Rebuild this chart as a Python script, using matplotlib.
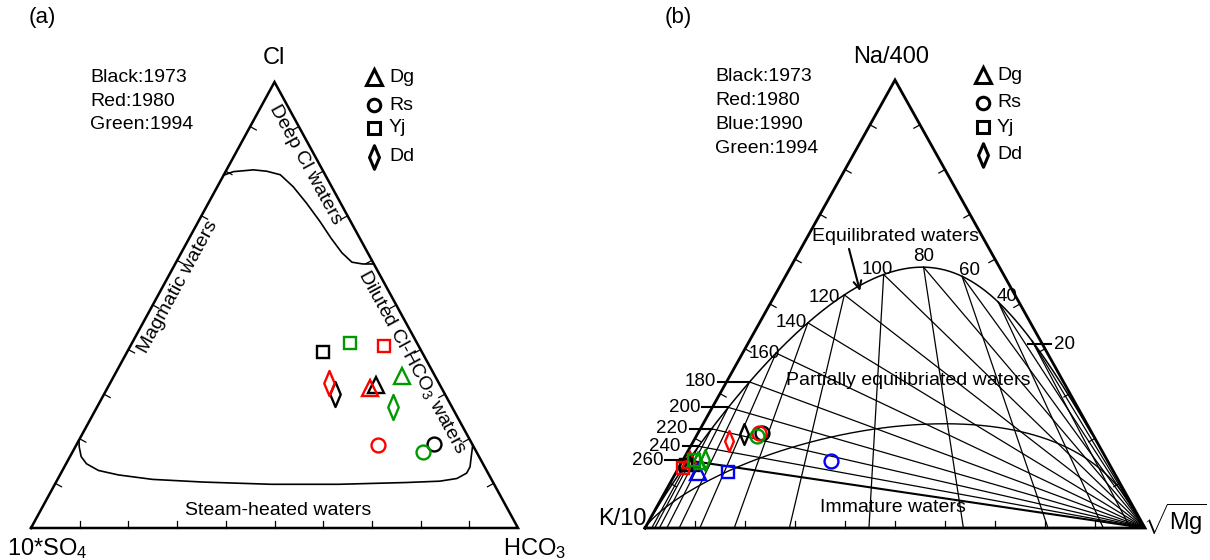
import matplotlib
matplotlib.use('Agg')
import matplotlib.pyplot as plt
import numpy as np
from matplotlib.path import Path

plt.rcParams['font.family'] = ['Liberation Sans', 'DejaVu Sans']
plt.rcParams['mathtext.fontset'] = 'custom'
plt.rcParams['mathtext.rm'] = 'Liberation Sans'
plt.rcParams['mathtext.it'] = 'Liberation Sans:italic'
plt.rcParams['mathtext.bf'] = 'Liberation Sans:bold'

# ---------------- data ----------------
sites = ['Dg', 'Rs', 'Yj', 'Dd']

# (a) Cl - 10*SO4 - HCO3 (%), years 1973 / 1980 / 1994
years_a = ['1973', '1980', '1994']
cl_a = {
    'Dg': [32.1, 31.4, 34.0],
    'Rs': [18.8, 18.6, 17.1],
    'Yj': [39.5, 40.8, 41.5],
    'Dd': [30.0, 32.5, 27.2],
}
hco3_a = {
    'Dg': [54.8, 53.9, 59.1],
    'Rs': [73.3, 61.9, 71.9],
    'Yj': [40.2, 52.0, 44.7],
    'Dd': [47.4, 44.9, 60.7],
}

# (b) Na/400 - K/10 - sqrt(Mg) (%), years 1973 / 1980 / 1990 / 1994
years_b = ['1973', '1980', '1990', '1994']
na_b = {
    'Dg': [14.5, 15.2, 12.5, 15.0],
    'Rs': [21.2, 21.2, 15.0, 20.5],
    'Yj': [14.1, 13.4, 12.5, 15.2],
    'Dd': [21.0, 19.4, None, 15.2],
}
mg_b = {
    'Dg': [2.0, 1.3, 4.4, 3.0],
    'Rs': [12.7, 12.1, 29.6, 12.2],
    'Yj': [1.2, 0.8, 10.4, 2.1],
    'Dd': [9.2, 7.0, None, 4.3],
}

# (a) field boundaries (Cl %, HCO3 %)
deep_cl_cl = [79.1, 79.9, 80.3, 80.0, 79.2, 76.5, 72.8, 68.7, 65.0, 61.7, 59.6, 59.2, 59.2]
deep_cl_hco3 = [0.0, 1.6, 5.5, 8.4, 11.6, 15.6, 20.2, 25.0, 29.1, 33.0, 36.1, 38.5, 40.8]
steam_cl = [19.7, 18.2, 16.0, 14.4, 12.9, 11.9, 10.9, 10.3, 9.8, 9.8, 10.2, 10.5, 11.1, 12.3, 13.7, 16.0, 18.6]
steam_hco3 = [0.0, 0.8, 2.3, 4.2, 7.4, 12.0, 19.5, 30.2, 44.4, 58.3, 72.0, 78.7, 81.9, 83.3, 83.3, 82.4, 81.4]

# (b) isotherms (deg C)
iso_temps = [20, 40, 60, 80, 100, 120, 140, 160, 180, 200, 220, 240, 260]

colors_a = ['black', 'red', '#009900']
colors_b = ['black', 'red', '#0000ff', '#009900']

diamond = Path([(0, 1), (0.42, 0), (0, -1), (-0.42, 0), (0, 1)], closed=True)
markers = {'Dg': '^', 'Rs': 'o', 'Yj': 's', 'Dd': diamond}
ms_a = {'Dg': 11, 'Rs': 10, 'Yj': 9, 'Dd': 18}
ms_b = {'Dg': 11, 'Rs': 10, 'Yj': 9, 'Dd': 15}


def tern(top, right):
    top = np.asarray(top, dtype=float) / 100.0
    right = np.asarray(right, dtype=float) / 100.0
    return right + 0.5 * top, top


def frame(ax, wpx, hpx, lw):
    ax.set_xlim(0, 1)
    ax.set_ylim(0, 1)
    ax.axis('off')
    ax.plot([0, 1, 0.5, 0], [0, 0, 1, 0], color='black', lw=lw, clip_on=False,
            solid_joinstyle='miter')
    tl = 7.0
    nrm = np.hypot(0.5 * wpx, hpx)
    for f in np.arange(1, 10) / 10.0:
        ax.plot([f, f], [0, tl / hpx], color='black', lw=0.9, clip_on=False)
        # left edge
        x0, y0 = 0.5 * f, f
        ax.plot([x0, x0 + hpx / nrm * tl / wpx], [y0, y0 - 0.5 * wpx / nrm * tl / hpx],
                color='black', lw=0.9, clip_on=False)
        # right edge
        x0 = 1 - 0.5 * f
        ax.plot([x0, x0 - hpx / nrm * tl / wpx], [y0, y0 - 0.5 * wpx / nrm * tl / hpx],
                color='black', lw=0.9, clip_on=False)


fig = plt.figure(figsize=(12.1, 5.6), dpi=100)

# ================= panel (a) =================
wa, ha = 487.0, 446.0
ax = fig.add_axes([31 / 1210, 32 / 560, wa / 1210, ha / 560])
frame(ax, wa, ha, 1.8)

x, y = tern(deep_cl_cl, deep_cl_hco3)
ax.plot(x, y, color='black', lw=1.2)
x, y = tern(steam_cl, steam_hco3)
ax.plot(x, y, color='black', lw=1.2)

for s in sites:
    for i, c in enumerate(colors_a):
        x, y = tern(cl_a[s][i], hco3_a[s][i])
        ax.plot(x, y, marker=markers[s], ms=ms_a[s], mfc='none', mec=c, mew=1.7,
                ls='none', clip_on=False)

ax.text(0.499, 1.054, 'Cl', fontsize=17, ha='center', va='center')
ax.text(0.033, -0.045, r'10*SO$_4$', fontsize=17, ha='center', va='center')
ax.text(1.035, -0.045, r'HCO$_3$', fontsize=17, ha='center', va='center')

ang = np.degrees(np.arctan2(ha, 0.5 * wa))
ax.text(0.563, 0.814, 'Deep Cl waters', fontsize=14, rotation=-ang,
        ha='center', va='center', rotation_mode='anchor')
ax.text(0.784, 0.372, r'Diluted Cl-HCO$_3$ waters', fontsize=14, rotation=-ang,
        ha='center', va='center', rotation_mode='anchor')
ax.text(0.302, 0.540, 'Magmatic waters', fontsize=14, rotation=ang,
        ha='center', va='center', rotation_mode='anchor')
ax.text(0.507, 0.040, 'Steam-heated waters', fontsize=14, ha='center', va='center')

for i, lab in enumerate(['Black:', 'Red:', 'Green:']):
    ax.text(0.121, 1.009 - 0.0525 * i, lab + years_a[i], fontsize=14, ha='left', va='center')
leg_y = [1.011, 0.948, 0.897, 0.832]
leg_ms = {'Dg': 11, 'Rs': 9, 'Yj': 8.5, 'Dd': 17}
for s, yy in zip(sites, leg_y):
    ax.plot(0.704, yy, marker=markers[s], ms=leg_ms[s], mfc='none', mec='black', mew=2.2,
            ls='none', clip_on=False)
    ax.text(0.735, yy, s, fontsize=14, ha='left', va='center')

fig.text(42 / 1210, 1 - 18 / 560, '(a)', fontsize=16, ha='center', va='center')

# ================= panel (b) =================
wb, hb = 500.0, 448.0
bx = fig.add_axes([645 / 1210, 32 / 560, wb / 1210, hb / 560])
frame(bx, wb, hb, 2.0)


def gigg(na, k, rmg):
    s = na + k + rmg
    na, rmg = na / s, rmg / s
    return rmg + 0.5 * na, na


def equil(t):
    tk = np.asarray(t, dtype=float) + 273.15
    na_k = 10 ** (1390.0 / tk - 1.75)      # Na-K geothermometer
    k2_mg = 10 ** (14.0 - 4410.0 / tk)     # K-Mg geothermometer
    return na_k / 400.0, 0.1 * np.ones_like(tk), 1.0 / np.sqrt(k2_mg)


# full equilibrium line
tt = np.concatenate([np.linspace(-20, 400, 900), np.linspace(400, 3000, 300)])
ex, ey = gigg(*equil(tt))
bx.plot(np.append(ex, 0), np.append(ey, 0), color='black', lw=1.1)

# partial equilibrium line (maturity index 2.0)
l1 = np.linspace(-3, 5, 800)
px, py = gigg(10 ** l1 / 400.0, 0.1 * np.ones_like(l1), 10 ** ((l1 - 2.0) / 0.63))
bx.plot(np.concatenate([[0], px, [1]]), np.concatenate([[0], py, [0]]), color='black', lw=1.0)

# isotherms
na_t, k_t, mg_t = equil(iso_temps)
tx, ty = gigg(na_t, k_t, mg_t)
for i, t in enumerate(iso_temps):
    bx.plot([tx[i], 1], [ty[i], 0], color='black', lw=1.5 if t == 260 else 0.9)
    xb = mg_t[i] / (mg_t[i] + k_t[i])
    bx.plot([tx[i], xb], [ty[i], 0], color='black', lw=0.9)

# temperature labels
lab_pos = {
    40: ('left', 'baseline', -2, 1),
    60: ('left', 'baseline', -3, 1),
    80: ('center', 'bottom', 0, 2),
    100: ('center', 'baseline', -6, 1),
    120: ('right', 'center', -4, -3),
    140: ('right', 'center', -1, 0),
    160: ('right', 'center', 4, 0),
}
tick_len = {180: 32, 200: 26, 220: 22, 240: 16, 260: 23}
for i, t in enumerate(iso_temps):
    if t in lab_pos:
        h, v, dx, dy = lab_pos[t]
        bx.annotate(str(t), (tx[i], ty[i]), xytext=(dx * 0.72, dy * 0.72),
                    textcoords='offset points', ha=h, va=v, fontsize=13.5)
    elif t in tick_len:
        x0 = tx[i] - tick_len[t] / wb
        bx.plot([x0, tx[i]], [ty[i], ty[i]], color='black', lw=1.5, clip_on=False)
        bx.text(x0 - 2 / wb, ty[i], str(t), fontsize=13.5, ha='right', va='center')
    else:
        x1 = tx[i] + 19 / wb
        bx.plot([tx[i] - 4 / wb, x1], [ty[i] - 3 / hb, ty[i] - 3 / hb], color='black',
                lw=1.5, clip_on=False)
        bx.text(x1 + 3 / wb, ty[i] - 3 / hb, str(t), fontsize=13.5, ha='left', va='center')

for s in sites:
    for i, c in enumerate(colors_b):
        if na_b[s][i] is None:
            continue
        x, y = tern(na_b[s][i], mg_b[s][i])
        bx.plot(x, y, marker=markers[s], ms=ms_b[s], mfc='none', mec=c, mew=1.7,
                ls='none', clip_on=False)

bx.text(0.492, 1.051, 'Na/400', fontsize=17, ha='center', va='center')
bx.text(-0.046, 0.02, 'K/10', fontsize=17, ha='center', va='center')
bx.text(1.06, 0.02, r'$\sqrt{\mathrm{Mg}}$', fontsize=17, ha='center', va='center')

bx.text(0.5, 0.6496, 'Equilibrated waters', fontsize=14, ha='center', va='center')
bx.annotate('', xy=(0.43, 0.529), xytext=(0.408, 0.623),
            arrowprops=dict(arrowstyle='->', lw=1.5, color='black', mutation_scale=14,
                            shrinkA=0, shrinkB=0))
bx.text(0.526, 0.330, 'Partially equilibriated waters', fontsize=14, ha='center', va='center')
bx.text(0.496, 0.045, 'Immature waters', fontsize=14, ha='center', va='center')

for i, lab in enumerate(['Black:', 'Red:', 'Blue:', 'Green:']):
    bx.text(0.14, 1.007 - 0.053 * i, lab + years_b[i], fontsize=14, ha='left', va='center')
leg_yb = [1.011, 0.949, 0.895, 0.833]
for s, yy in zip(sites, leg_yb):
    bx.plot(0.676, yy, marker=markers[s], ms=leg_ms[s], mfc='none', mec='black', mew=2.2,
            ls='none', clip_on=False)
    bx.text(0.704, yy, s, fontsize=14, ha='left', va='center')

fig.text(678 / 1210, 1 - 18 / 560, '(b)', fontsize=16, ha='center', va='center')

fig.savefig('out.png', dpi=100)
